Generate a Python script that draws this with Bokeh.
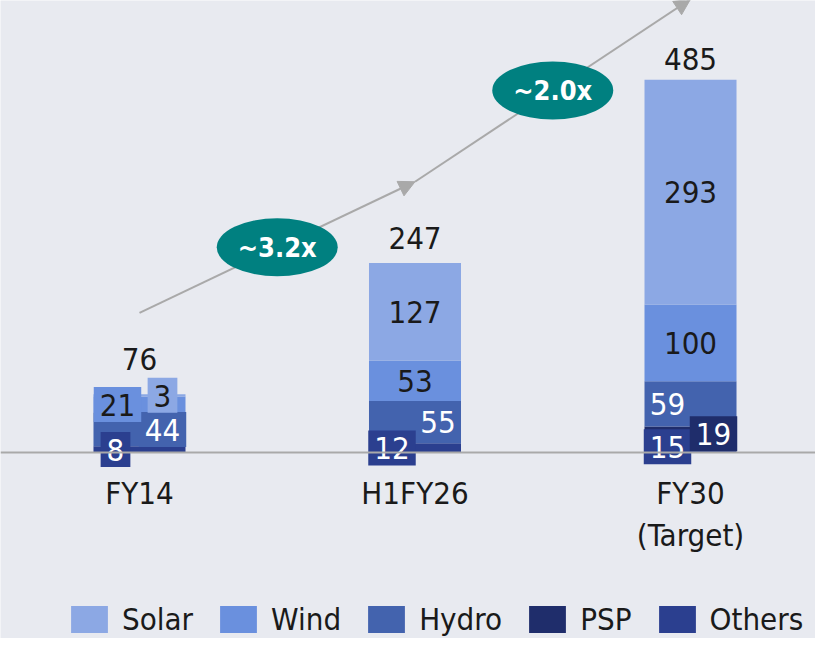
from bokeh.plotting import figure
from bokeh.models import (Range1d, ColumnDataSource, Legend, LegendItem, Span, Arrow,
                          NormalHead)
from bokeh.core.properties import value
from bokeh.embed import file_html
from bokeh.resources import INLINE

# ---------------- data ----------------
categories = ["FY14", "H1FY26", "FY30\n(Target)"]
others = [8, 12, 15]
psp = [0, 0, 19]
hydro = [44, 55, 59]
wind = [21, 53, 100]
solar = [3, 127, 293]
totals = [76, 247, 485]
growth = ["~3.2x", "~2.0x"]

# ---------------- style ----------------
FONT = "DejaVu Sans Condensed"
BG = "#E8EAF0"
GRAY = "#A9A9A9"
TEAL = "#008080"
INK = "#1A1A1A"
stack_order = ["Others", "PSP", "Hydro", "Wind", "Solar"]
legend_order = ["Solar", "Wind", "Hydro", "PSP", "Others"]
colors = {"Solar": "#8CA8E4", "Wind": "#6A90DE", "Hydro": "#4363AE",
          "PSP": "#1F2D6B", "Others": "#2B3F8F"}
text_colors = {"Solar": INK, "Wind": INK, "Hydro": "white",
               "PSP": "white", "Others": "white"}
# per category: series -> (x offset px, boxed?)
label_style = [
    {"Others": (-24, True), "Hydro": (23, True), "Wind": (-22, True), "Solar": (23, True)},
    {"Others": (-23, True), "Hydro": (23, False), "Wind": (0, False), "Solar": (0, False)},
    {"Others": (-23, True), "PSP": (23, True), "Hydro": (-23, False), "Wind": (0, False), "Solar": (0, False)},
]
total_dy = [-35, -25, -21]
arrow_lift = 106
bar_width = 0.334

values = {"Others": others, "PSP": psp, "Hydro": hydro, "Wind": wind, "Solar": solar}
xs = list(range(len(categories)))

src = ColumnDataSource(dict(x=xs, **values))

p = figure(width=815, height=638,
           x_range=Range1d(-0.5045, 2.4537), y_range=Range1d(-242.5, 589.3),
           x_axis_type=None, y_axis_type=None,
           output_backend="svg", toolbar_location=None,
           min_border=0, outline_line_color=None,
           background_fill_color=BG, border_fill_color=BG)

# baseline
p.add_layout(Span(location=0, dimension="width", line_color=GRAY, line_width=2))

# category labels (drawn on the x scale, just under the baseline)
p.text(x=xs, y=[0] * len(xs), text=categories, y_offset=23,
       text_align="center", text_baseline="top", text_color=INK,
       text_font=value(FONT), text_font_size="31px", text_line_height=1.15)

# growth arrows
arrow_src = ColumnDataSource(dict(
    x0=xs[:-1], y0=[t + arrow_lift for t in totals[:-1]],
    x1=xs[1:], y1=[t + arrow_lift for t in totals[1:]]))
p.add_layout(Arrow(end=NormalHead(size=16, fill_color=GRAY, line_color=GRAY),
                   x_start="x0", y_start="y0", x_end="x1", y_end="y1",
                   source=arrow_src, line_color=GRAY, line_width=2, level="underlay"))

# stacked bars
renderers = p.vbar_stack(stack_order, x="x", width=bar_width, source=src,
                         color=[colors[s] for s in stack_order], line_color=None)
rmap = dict(zip(stack_order, renderers))

# segment labels
box = dict(x=[], y=[], text=[], dx=[], color=[], bg=[])
plain = dict(x=[], y=[], text=[], dx=[], color=[])
for i in xs:
    bottom = 0
    for s in stack_order:
        v = values[s][i]
        if v > 0:
            dx, boxed = label_style[i][s]
            d = box if boxed else plain
            d["x"].append(i)
            d["y"].append(bottom + v / 2)
            d["text"].append(str(v))
            d["dx"].append(dx)
            d["color"].append(text_colors[s])
            if boxed:
                d["bg"].append(colors[s])
        bottom += v

p.text(x="x", y="y", text="text", x_offset="dx", text_color="color",
       source=ColumnDataSource(plain), text_align="center", text_baseline="middle",
       text_font=value(FONT), text_font_size="31px")
p.text(x="x", y="y", text="text", x_offset="dx", text_color="color",
       background_fill_color="bg",
       padding=dict(left=6, right=6, top=7, bottom=6),
       source=ColumnDataSource(box), text_align="center", text_baseline="middle",
       text_font=value(FONT), text_font_size="31px")

# totals
p.text(x=xs, y=totals, text=[str(t) for t in totals], y_offset=total_dy,
       text_align="center", text_baseline="middle", text_color=INK,
       text_font=value(FONT), text_font_size="31px")

# growth bubbles
gx = [(a + b) / 2 for a, b in zip(xs[:-1], xs[1:])]
gy = [(a + b) / 2 + arrow_lift for a, b in zip(totals[:-1], totals[1:])]
p.ellipse(x=gx, y=gy, width=121, height=58, width_units="screen", height_units="screen",
          fill_color=TEAL, line_color=None)
p.text(x=gx, y=gy, text=growth, text_align="center", text_baseline="middle",
       text_color="white", text_font=value(FONT), text_font_style="bold",
       text_font_size="27px")

legend = Legend(items=[LegendItem(label=s, renderers=[rmap[s]]) for s in legend_order],
                orientation="horizontal", location=(66, 1),
                glyph_width=46, glyph_height=34, label_standoff=10, spacing=22,
                padding=0, margin=0, background_fill_alpha=0, border_line_color=None,
                label_text_font=FONT, label_text_font_size="31px",
                label_text_color=INK)
p.add_layout(legend)

open("out.html", "w").write(file_html(p, INLINE))
